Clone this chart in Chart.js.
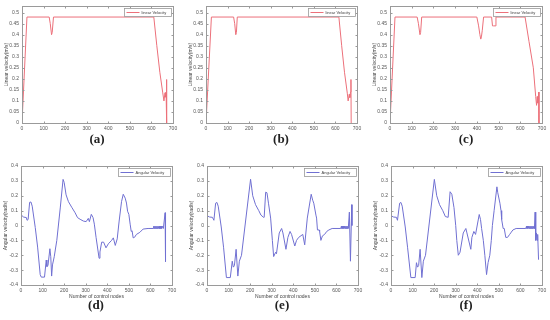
<!DOCTYPE html>
<html>
<head>
<meta charset="utf-8">
<script src="https://cdn.jsdelivr.net/npm/chart.js@4.4.0/dist/chart.umd.min.js"></script>
<style>
  body { margin: 0; background: #fff; width: 550px; height: 320px; overflow: hidden; position: relative; }
  .panel { position: absolute; }
  .tag { position: absolute; width: 40px; text-align: center; color: #222;
         font: bold 13px "Liberation Serif", "DejaVu Serif", serif; line-height: 14px; }
</style>
</head>
<body>

<canvas id="ca" class="panel" width="181" height="135" style="left:0px;top:0px"></canvas>
<canvas id="cb" class="panel" width="181" height="135" style="left:184px;top:0px"></canvas>
<canvas id="cc" class="panel" width="182" height="135" style="left:368px;top:0px"></canvas>
<canvas id="cd" class="panel" width="180" height="145" style="left:0px;top:160px"></canvas>
<canvas id="ce" class="panel" width="180" height="145" style="left:186px;top:160px"></canvas>
<canvas id="cf" class="panel" width="180" height="145" style="left:370px;top:160px"></canvas>

<div class="tag" style="left:77px;top:132px">(a)</div>
<div class="tag" style="left:261px;top:132px">(b)</div>
<div class="tag" style="left:446px;top:132px">(c)</div>
<div class="tag" style="left:76px;top:298px">(d)</div>
<div class="tag" style="left:262px;top:298px">(e)</div>
<div class="tag" style="left:446px;top:298px">(f)</div>

<script>
/** Data **/

// (a) linear velocity
const nodesA  = [0, 23, 126, 131, 137, 140, 146, 611, 625, 639, 652, 658, 663, 666, 668, 670, 671];
const linearA = [0, 0.48, 0.48, 0.45, 0.40, 0.41, 0.48, 0.48, 0.35, 0.23, 0.14, 0.10, 0.137, 0.117, 0.14, 0.197, 0];

// (b) linear velocity
const nodesB  = [0, 25, 128, 133, 138, 141, 145, 616, 629, 642, 655, 659, 664, 667, 670, 672, 673];
const linearB = [0, 0.48, 0.48, 0.45, 0.40, 0.41, 0.48, 0.48, 0.35, 0.23, 0.135, 0.10, 0.13, 0.115, 0.14, 0.197, 0];

// (c) linear velocity
const nodesC  = [0, 23, 125, 131, 138, 141, 146, 400, 408, 414, 418, 421, 425, 431,
                 468, 472, 476, 484, 488, 622, 640, 660, 671, 675, 678, 681, 685, 686];
const linearC = [0, 0.48, 0.48, 0.45, 0.40, 0.41, 0.48, 0.48, 0.44, 0.40, 0.38, 0.39, 0.42, 0.48,
                 0.48, 0.44, 0.44, 0.44, 0.48, 0.48, 0.37, 0.25, 0.12, 0.08, 0.12, 0.09, 0.14, 0];

// (d) angular velocity
const nodesD   = [0, 0, 3, 12, 25, 28, 33, 40, 46, 52, 66, 77, 89, 94, 109, 117, 120, 125, 134, 138, 142, 146, 154,
                  166, 182, 195, 200, 209, 220, 235, 251, 262, 274, 289, 302, 312, 317, 326, 334, 340, 348, 362,
                  366, 374, 383, 394, 405, 420, 428, 437, 446, 455, 466, 474, 483, 489, 494, 500, 506, 511, 515,
                  520, 526, 535, 551, 566, 589, 612, 615, 617, 620, 622, 625, 627, 630, 632, 635, 637, 640, 642,
                  645, 647, 650, 652, 655, 660, 668, 670];
const angularD = [0.206, 0.096, 0.07, 0.057, 0.053, 0.035, 0.04, 0.156, 0.158, 0.13, -0.013, -0.145, -0.33, -0.347,
                  -0.347, -0.232, -0.276, -0.27, -0.156, -0.21, -0.34, -0.265, -0.21, -0.1, 0.118, 0.31, 0.29,
                  0.206, 0.16, 0.123, 0.085, 0.053, 0.042, 0.03, 0.026, 0.048, 0.026, 0.075, 0.053, 0.009, -0.08,
                  -0.22, -0.178, -0.112, -0.112, -0.15, -0.123, -0.1, -0.083, -0.134, -0.09, 0.03, 0.16, 0.21,
                  0.184, 0.151, 0.096, 0.075, 0.009, -0.04, -0.035, -0.083, -0.08, -0.06, -0.046, -0.024, -0.02,
                  -0.02, -0.005, -0.02, -0.005, -0.02, -0.005, -0.02, -0.005, -0.02, -0.005, -0.02, -0.005, -0.02,
                  -0.005, -0.02, -0.005, -0.02, -0.005, -0.02, 0.086, -0.243, 0.14, 0];

// (e) angular velocity
const nodesE   = [0, 0, 3, 12, 25, 32, 40, 46, 52, 66, 77, 90, 108, 117, 122, 127, 135, 143, 150, 160, 202,
                  212, 225, 240, 250, 262, 265, 272, 278, 285, 295, 303, 309, 318, 322, 335, 346, 352, 366,
                  375, 385, 392, 407, 415, 425, 444, 453, 465, 483, 490, 495, 505, 508, 512, 520, 522, 528,
                  535, 545, 555, 565, 580, 620, 623, 625, 628, 630, 633, 635, 638, 640, 643, 645, 648, 650,
                  653, 655, 660, 665, 671, 672];
const angularE = [0.21, 0.08, 0.065, 0.057, 0.055, 0.035, 0.15, 0.155, 0.13, -0.01, -0.15, -0.35, -0.35, -0.24,
                  -0.28, -0.27, -0.16, -0.34, -0.24, -0.2, 0.311, 0.2, 0.14, 0.1, 0.07, 0.055, 0.055, 0.224,
                  0.22, 0.15, 0.05, -0.1, -0.209, -0.18, -0.19, -0.05, -0.02, -0.05, -0.16, -0.08, -0.04, -0.06,
                  -0.138, -0.1, -0.08, -0.06, -0.13, 0.05, 0.21, 0.17, 0.15, 0.07, 0.05, -0.03, -0.03, -0.04,
                  -0.1, -0.07, -0.06, -0.04, -0.03, -0.02, -0.02, -0.005, -0.02, -0.005, -0.02, -0.005, -0.02,
                  -0.005, -0.02, -0.005, -0.02, -0.005, -0.02, -0.005, -0.02, 0.09, -0.24, 0.14, 0];

// (f) angular velocity
const nodesF   = [0, 0, 3, 12, 25, 30, 40, 46, 52, 66, 77, 92, 112, 118, 123, 128, 135, 143, 150, 160, 201,
                  212, 225, 240, 252, 265, 274, 282, 292, 300, 305, 312, 320, 323, 335, 347, 352, 370, 375,
                  384, 392, 409, 415, 420, 428, 435, 443, 450, 458, 465, 470, 478, 491, 495, 505, 510, 513,
                  520, 525, 532, 540, 550, 555, 565, 580, 625, 628, 630, 633, 635, 638, 640, 643, 645, 648,
                  650, 653, 655, 658, 660, 663, 665, 668, 671, 674, 677, 680, 684];
const angularF = [0.21, 0.08, 0.065, 0.057, 0.055, 0.035, 0.15, 0.155, 0.13, -0.01, -0.15, -0.35, -0.35, -0.25,
                  -0.28, -0.27, -0.16, -0.35, -0.24, -0.2, 0.31, 0.2, 0.14, 0.1, 0.06, 0.055, 0.227, 0.21, 0.12,
                  0.0, -0.1, -0.2, -0.18, -0.18, -0.05, -0.02, -0.05, -0.16, -0.08, -0.04, -0.06, 0.074, 0.04,
                  -0.02, -0.1, -0.2, -0.33, -0.25, -0.2, -0.1, 0.0, 0.1, 0.26, 0.22, 0.15, 0.1, 0.04, -0.02,
                  -0.02, -0.08, -0.08, -0.06, -0.05, -0.03, -0.02, -0.02, -0.005, -0.02, -0.005, -0.02, -0.005,
                  -0.02, -0.005, -0.02, -0.005, -0.02, -0.005, -0.02, -0.005, -0.02, -0.005, -0.02, 0.09, -0.1,
                  -0.05, -0.1, -0.06, -0.23];

/** Colors **/
const red_line = "rgb(236, 112, 122)";
const blue_line = "rgb(112, 112, 210)";
const frame_color = "#9a9a9a";
const label_color = "#555";

/** Plugins **/

// MATLAB style box with inward ticks on all four sides
const boxFrame = {
    id: 'boxFrame',
    afterDatasetsDraw(chart) {
        const {ctx, chartArea: a, scales} = chart;
        const L = Math.round(a.left) + 0.5, R = Math.round(a.right) + 0.5;
        const T = Math.round(a.top) + 0.5, B = Math.round(a.bottom) + 0.5;
        ctx.save();
        ctx.strokeStyle = frame_color;
        ctx.lineWidth = 1;
        ctx.strokeRect(L, T, R - L, B - T);
        ctx.beginPath();
        scales.x.ticks.forEach(function(t) {
            const px = Math.round(scales.x.getPixelForValue(t.value)) + 0.5;
            ctx.moveTo(px, B); ctx.lineTo(px, B - 2);
            ctx.moveTo(px, T); ctx.lineTo(px, T + 2);
        });
        scales.y.ticks.forEach(function(t) {
            const py = Math.round(scales.y.getPixelForValue(t.value)) + 0.5;
            ctx.moveTo(L, py); ctx.lineTo(L + 2, py);
            ctx.moveTo(R, py); ctx.lineTo(R - 2, py);
        });
        ctx.stroke();
        ctx.restore();
    }
};

// small legend box in the top right corner of the plot
const innerLegend = {
    id: 'innerLegend',
    afterDraw(chart, args, opts) {
        const {ctx, chartArea: a} = chart;
        const ds = chart.data.datasets[0];
        const x0 = Math.round(a.right - 2 - opts.w) + 0.5;
        const y0 = Math.round(a.top + 2) + 0.5;
        const mid = y0 + opts.h / 2;
        ctx.save();
        ctx.fillStyle = "#fff";
        ctx.fillRect(x0, y0, opts.w, opts.h);
        ctx.strokeStyle = frame_color;
        ctx.lineWidth = 0.8;
        ctx.strokeRect(x0, y0, opts.w, opts.h);
        ctx.strokeStyle = ds.borderColor;
        ctx.lineWidth = 1;
        ctx.beginPath();
        ctx.moveTo(x0 + 2, mid); ctx.lineTo(x0 + 15, mid);
        ctx.stroke();
        ctx.fillStyle = "#444";
        ctx.font = '4px "Liberation Sans", Arial, sans-serif';
        ctx.textBaseline = "middle";
        ctx.fillText(ds.label, x0 + 17, mid);
        ctx.restore();
    }
};

function tick_text(v) {
    return String(Math.round(v * 100) / 100);
}

/**
 * Build one panel.
 * @param id: canvas id
 * @param xs, ys: node numbers and velocities
 * @param linear: true for the top row (linear velocity), false for angular velocity
 */
function create_panel(id, xs, ys, linear) {
    const tickFont = {family: '"Liberation Sans", Arial, sans-serif', size: 5};
    new Chart(document.getElementById(id), {
        type: 'line',
        data: {
            datasets: [{
                label: linear ? 'linear Velocity' : 'Angular Velocity',
                data: xs.map(function(x, i) { return {x: x, y: ys[i]}; }),
                borderColor: linear ? red_line : blue_line,
                borderWidth: 1,
                pointRadius: 0,
                tension: 0,
                fill: false
            }]
        },
        options: {
            responsive: false,
            animation: false,
            events: [],
            layout: {padding: {top: 4, right: 8, left: 0, bottom: 0}},
            plugins: {
                legend: {display: false},
                tooltip: {enabled: false},
                innerLegend: {w: linear ? 47 : 52, h: 8}
            },
            scales: {
                x: {
                    type: 'linear',
                    min: 0, max: 700,
                    grid: {display: false, drawTicks: false},
                    border: {display: false},
                    ticks: {stepSize: 100, font: tickFont, color: label_color, padding: 3,
                            maxRotation: 0, autoSkip: false, includeBounds: false},
                    title: {
                        display: !linear,
                        text: 'Number of control nodes',
                        font: tickFont, color: "#444",
                        padding: {top: 0, bottom: 5}
                    },
                    afterFit: function(s) { s.height = linear ? 12 : 20; }
                },
                y: {
                    min: linear ? 0 : -0.4,
                    max: linear ? 0.53 : 0.4,
                    grid: {display: false, drawTicks: false},
                    border: {display: false},
                    ticks: {stepSize: linear ? 0.05 : 0.1, font: tickFont, color: label_color, padding: 3,
                            autoSkip: false, includeBounds: false, callback: tick_text},
                    title: {
                        display: true,
                        text: linear ? 'Linear velocity(m/s)' : 'Angular velocity(rad/s)',
                        font: tickFont, color: "#444",
                        padding: {top: linear ? 3.5 : 2.5, bottom: 0}
                    },
                    afterFit: function(s) { s.width = linear ? 22 : 21; }
                }
            }
        },
        plugins: [boxFrame, innerLegend]
    });
}

create_panel('ca', nodesA, linearA, true);
create_panel('cb', nodesB, linearB, true);
create_panel('cc', nodesC, linearC, true);
create_panel('cd', nodesD, angularD, false);
create_panel('ce', nodesE, angularE, false);
create_panel('cf', nodesF, angularF, false);
</script>
</body>
</html>
